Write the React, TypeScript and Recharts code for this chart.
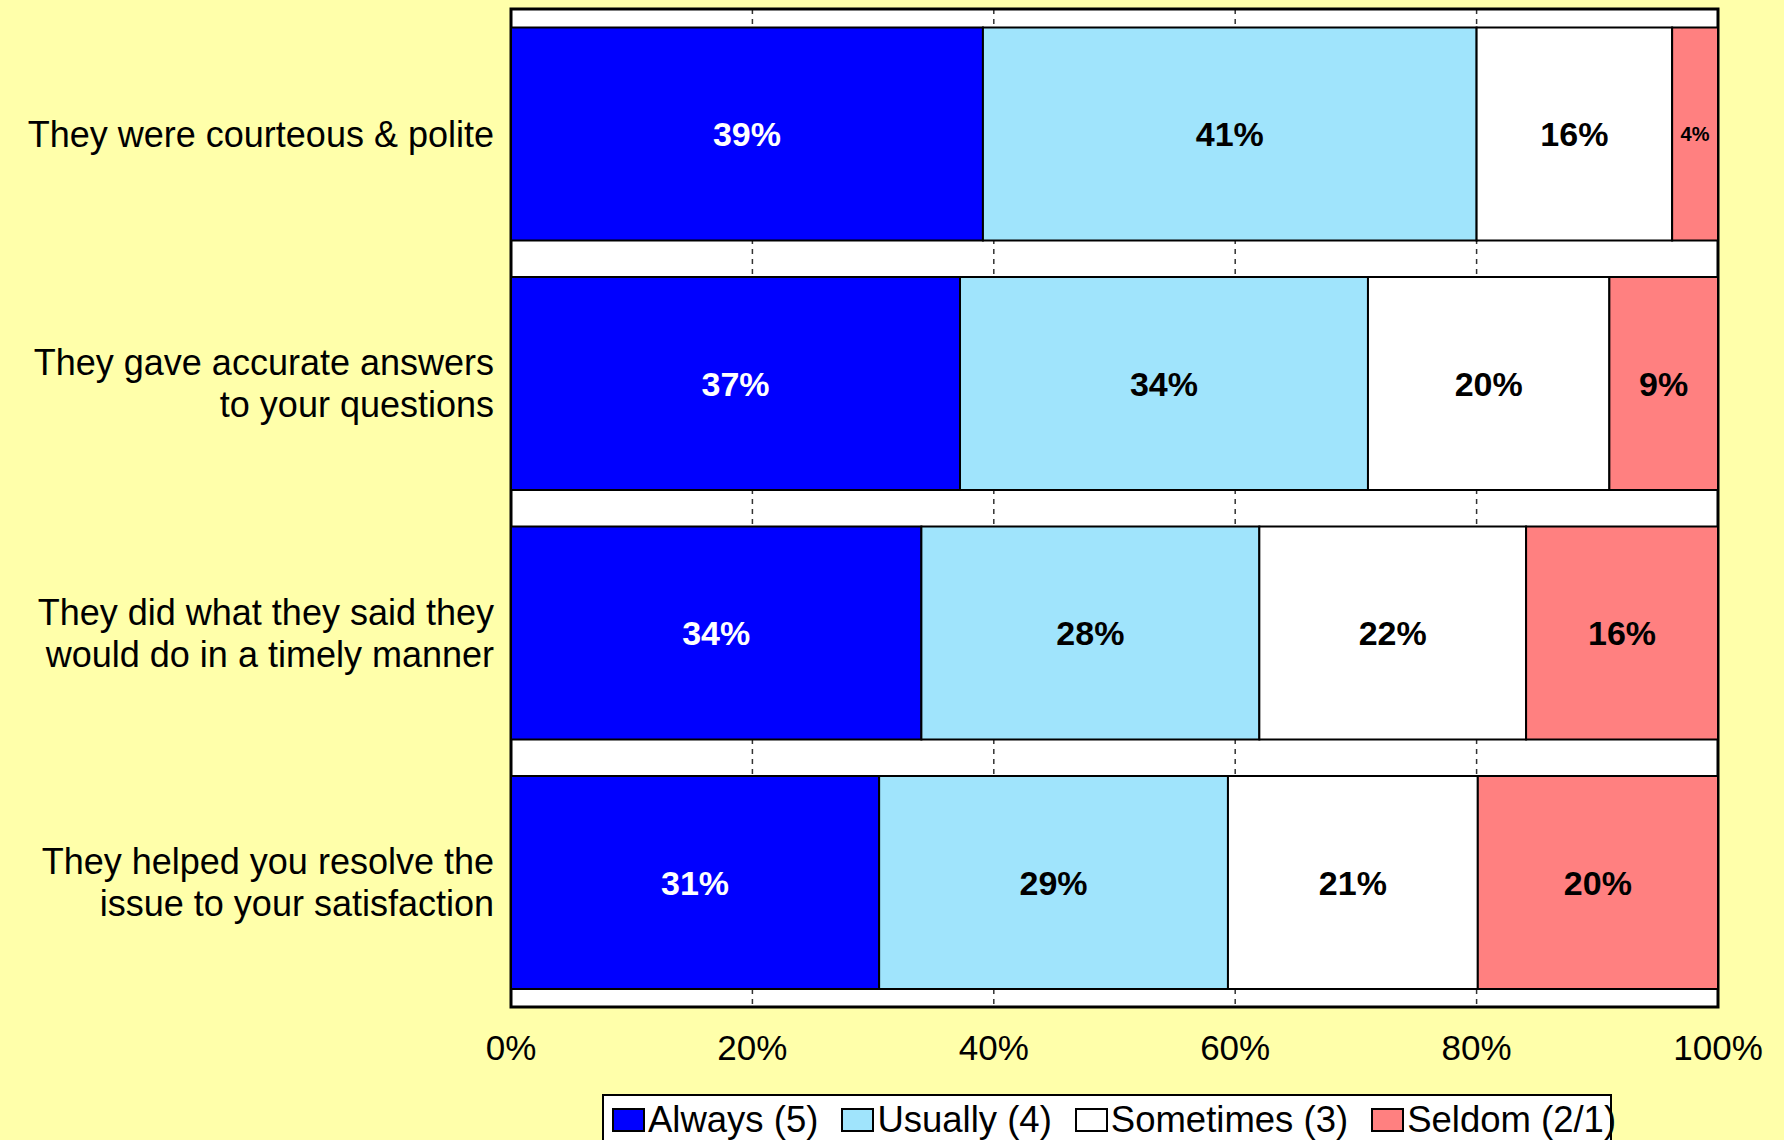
import React from "react";
import { BarChart, Bar, XAxis, YAxis, CartesianGrid, LabelList, ReferenceArea } from "recharts";

const CATEGORY_LINES = [
  ["They were courteous & polite"],
  ["They gave accurate answers", "to your questions"],
  ["They did what they said they", "would do in a timely manner"],
  ["They helped you resolve the", "issue to your satisfaction"],
];
const ALWAYS = [39.1, 37.2, 34.0, 30.5];
const USUALLY = [40.9, 33.8, 28.0, 28.9];
const SOMETIMES = [16.2, 20.0, 22.1, 20.7];
const SELDOM = [3.8, 9.0, 15.9, 19.9];
const SERIES_KEYS = ["always", "usually", "sometimes", "seldom"];
const SERIES_NAMES = ["Always (5)", "Usually (4)", "Sometimes (3)", "Seldom (2/1)"];
const X_TICKS = [0, 20, 40, 60, 80, 100];

const COLORS = ["#0000ff", "#a0e4fc", "#ffffff", "#ff8080"];
const LABEL_COLORS = ["#ffffff", "#000000", "#000000", "#000000"];
const FONT = "'Liberation Sans', Arial, Helvetica, sans-serif";

const data = CATEGORY_LINES.map((lines, i) => ({
  name: lines.join(" "),
  always: ALWAYS[i],
  usually: USUALLY[i],
  sometimes: SOMETIMES[i],
  seldom: SELDOM[i],
}));

const CategoryTick = (props: any) => {
  const { x, y, payload } = props;
  const lines = CATEGORY_LINES.find((l) => l.join(" ") === payload.value) || [payload.value];
  const lh = 42;
  const start = -((lines.length - 1) * lh) / 2;
  return (
    <text x={x} y={y} textAnchor="end" fill="#000" fontSize={36} fontFamily={FONT}>
      {lines.map((line, i) => (
        <tspan key={i} x={x} y={y + start + i * lh} dy="0.36em">
          {line}
        </tspan>
      ))}
    </text>
  );
};

const makeLabel = (color: string) => (props: any) => {
  const { x, y, width, height, value } = props;
  const small = value < 6;
  return (
    <text
      x={x + width / 2}
      y={y + height / 2}
      dy="0.36em"
      textAnchor="middle"
      fill={color}
      fontSize={small ? 20 : 34}
      fontWeight="bold"
      fontFamily={FONT}
    >
      {Math.round(value)}%
    </text>
  );
};

export default function App() {
  return (
    <div style={{ position: "relative", width: 1784, height: 1140, background: "#ffffaa", overflow: "hidden" }}>
      <style>{"body{margin:0}"}</style>
      <BarChart
        width={1784}
        height={1140}
        data={data}
        layout="vertical"
        margin={{ top: 9, right: 66, bottom: 0, left: 0 }}
        barCategoryGap="7.4%"
      >
        <CartesianGrid
          horizontal={false}
          fill="#ffffff"
          stroke="#333333"
          strokeWidth={1.5}
          strokeDasharray="5 5"
        />
        <XAxis
          type="number"
          domain={[0, 100]}
          ticks={X_TICKS}
          tickFormatter={(v) => `${v}%`}
          axisLine={false}
          tickLine={false}
          tickSize={0}
          tickMargin={28}
          height={133}
          interval={0}
          tick={{ fill: "#000", fontSize: 35, fontFamily: FONT }}
        />
        <YAxis
          type="category"
          dataKey="name"
          width={511}
          axisLine={false}
          tickLine={false}
          tickSize={0}
          tickMargin={17}
          interval={0}
          tick={<CategoryTick />}
        />
        {SERIES_KEYS.map((key, i) => (
          <Bar
            key={key}
            dataKey={key}
            name={SERIES_NAMES[i]}
            stackId="a"
            fill={COLORS[i]}
            stroke="#000"
            strokeWidth={2}
            isAnimationActive={false}
          >
            <LabelList dataKey={key} content={makeLabel(LABEL_COLORS[i])} />
          </Bar>
        ))}
        <ReferenceArea x1={0} x2={100} fill="none" stroke="#000" strokeWidth={3} ifOverflow="visible" />
      </BarChart>
      <div
        style={{
          position: "absolute",
          left: 602,
          top: 1094,
          width: 1010,
          height: 60,
          boxSizing: "border-box",
          border: "2px solid #000",
          background: "#fff",
          display: "flex",
          alignItems: "flex-start",
          paddingLeft: 8,
          paddingTop: 4,
          fontFamily: FONT,
          fontSize: 36.5,
          lineHeight: "40px",
          color: "#000",
          whiteSpace: "nowrap",
        }}
      >
        {SERIES_NAMES.map((name, i) => (
          <div key={name} style={{ display: "flex", alignItems: "center", marginRight: 23 }}>
            <span
              style={{
                display: "inline-block",
                width: 33,
                height: 24,
                boxSizing: "border-box",
                border: "2px solid #000",
                background: COLORS[i],
                marginRight: 3,
              }}
            />
            <span>{name}</span>
          </div>
        ))}
      </div>
    </div>
  );
}
